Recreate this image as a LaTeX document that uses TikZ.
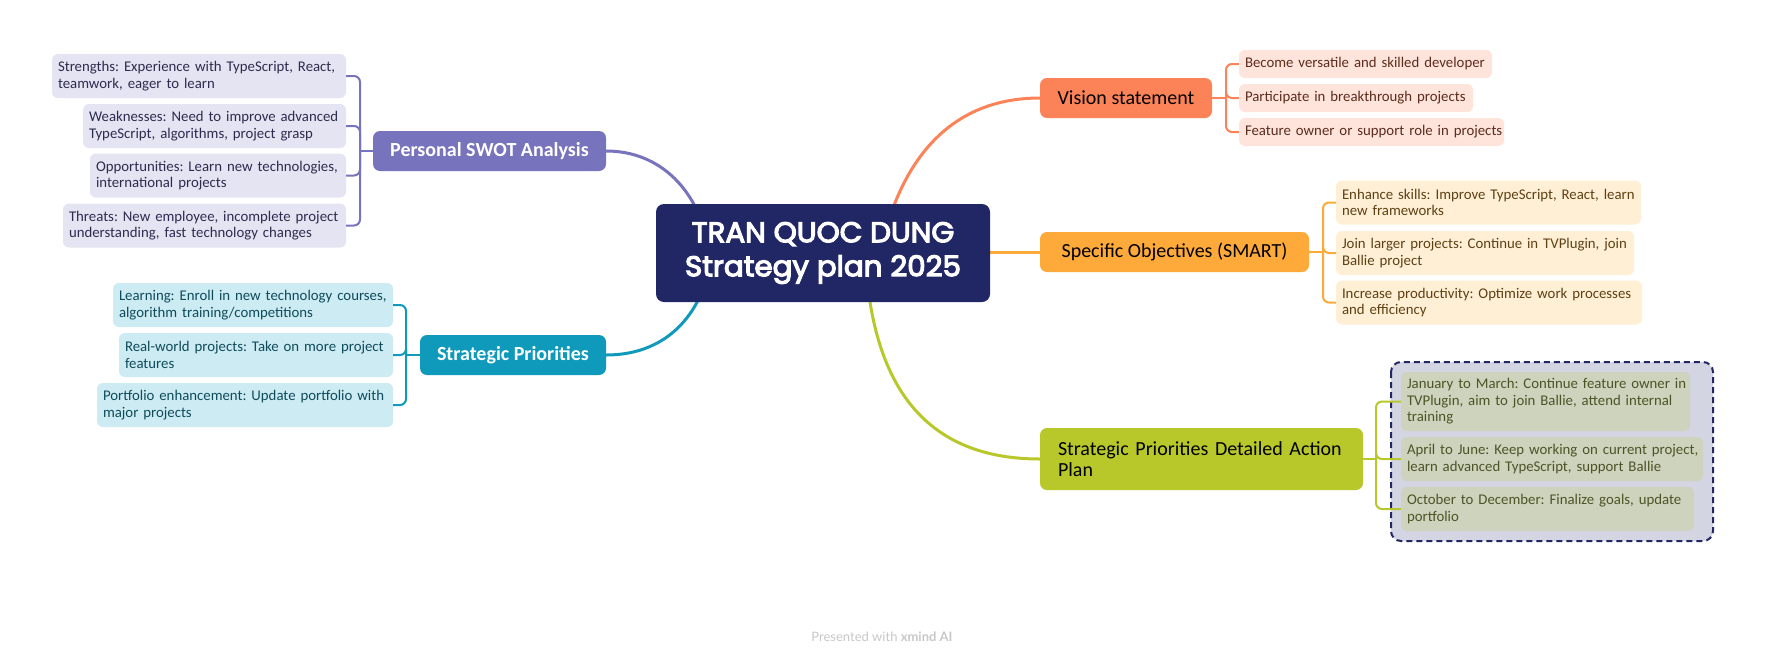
\documentclass[tikz,border=0pt]{standalone}
\usepackage{fontspec}
\setmainfont{Carlito}
\newfontfamily\titlefont{Poppins}[FakeBold=4, FakeStretch=1.03]
\newfontfamily\footfont{Lato}
\definecolor{navy}{HTML}{212765}
\definecolor{purp}{HTML}{7773BC}
\definecolor{purpsub}{HTML}{E5E4F2}
\definecolor{purptext}{HTML}{2D2C4F}
\definecolor{teal}{HTML}{0F9ABB}
\definecolor{tealsub}{HTML}{CCEBF2}
\definecolor{tealtext}{HTML}{0F4B5B}
\definecolor{orng}{HTML}{FC8357}
\definecolor{orngsub}{HTML}{FEE4DB}
\definecolor{orngtext}{HTML}{5C2C1C}
\definecolor{ambr}{HTML}{FDAA3A}
\definecolor{ambrsub}{HTML}{FFEFD5}
\definecolor{ambrtext}{HTML}{5E4014}
\definecolor{grn}{HTML}{B8C82A}
\definecolor{grnsub}{HTML}{CDD3BC}
\definecolor{grntext}{HTML}{4E5327}
\definecolor{dashfill}{HTML}{D3D5E3}
\definecolor{foot}{HTML}{C8C8C8}
\newcommand\subsize{\fontsize{14.8}{16.5}\selectfont}
\newcommand\brsize{\fontsize{20}{21.5}\selectfont}
\newcommand\ttlsize{\fontsize{28.5}{34}\selectfont}
\newcommand\keepln[1]{\mbox{#1}}
\tikzset{
  subbox/.style={rounded corners=6pt, inner xsep=6pt, inner ysep=0pt, align=left, anchor=center, font=\subsize, minimum height=44pt},
  onebox/.style={subbox, minimum height=28pt},
  brbox/.style={rounded corners=7pt, inner sep=0pt, align=center, anchor=center, font=\brsize, minimum height=40pt},
  curve/.style={line width=3pt, line cap=round},
  brack/.style={line width=2pt, rounded corners=6pt},
}
\begin{document}
\frenchspacing
\begin{tikzpicture}[x=1pt,y=-1pt]
\useasboundingbox (0,0) rectangle (1765,662);
\fill[white] (0,0) rectangle (1765,662);

% main branch nodes
\node[brbox, fill=purp, text=white, minimum width=233pt, font=\brsize\bfseries] (sw) at (489.5,151) {Personal SWOT Analysis};
\node[brbox, fill=teal, text=white, minimum width=186pt, font=\brsize\bfseries] (sp) at (513,355) {Strategic Priorities};
\node[brbox, fill=orng, text=black, minimum width=172pt] (vs) at (1126,98) {Vision statement};
\node[brbox, fill=ambr, text=black, minimum width=269pt] (so) at (1174.5,252) {Specific Objectives (SMART)};
\node[brbox, fill=grn, text=black, minimum height=62pt, text width=287pt, inner xsep=18pt, align=left] (ap) at (1201.5,459) {\keepln{Strategic Priorities Detailed Action}\\Plan};

% curves from centre
\coordinate (cin) at (900,252);
\draw[curve, purp] (sw.east) .. controls (660,151) and (700,190) .. (710,253);
\draw[curve, teal] (sp.east) .. controls (670,355) and (705,310) .. (712,253);
\draw[curve, orng] (vs.west) .. controls (950,98) and (900,160) .. (880,253);
\draw[curve, ambr] (cin) -- (so.west);
\draw[curve, grn] (ap.west) .. controls (900,459) and (870,350) .. (865,253);

% centre
\node[rounded corners=8pt, fill=navy, text=white, minimum width=334pt, minimum height=98pt, inner sep=0pt, align=center, font=\titlefont\ttlsize] (c) at (823,253) {TRAN QUOC DUNG\\Strategy plan 2025};

% SWOT children
\node[subbox, fill=purpsub, text=purptext, text width=282pt] (s1) at (199,76) {\keepln{Strengths: Experience with TypeScript, React,}\\teamwork, eager to learn};
\node[subbox, fill=purpsub, text=purptext, text width=251pt] (s2) at (214.5,126) {\keepln{Weaknesses: Need to improve advanced}\\\keepln{TypeScript, algorithms, project grasp}};
\node[subbox, fill=purpsub, text=purptext, text width=244pt] (s3) at (218,175.5) {\keepln{Opportunities: Learn new technologies,}\\international projects};
\node[subbox, fill=purpsub, text=purptext, text width=271pt] (s4) at (204.5,225.5) {\keepln{Threats: New employee, incomplete project}\\\keepln{understanding, fast technology changes}};
\coordinate (swj) at (360,151);
\draw[brack, purp] (sw.west) -- (swj);
\foreach \n in {s1,s2,s3,s4} \draw[brack, purp] (swj) |- (\n.east);

% Strategic priorities children
\node[subbox, fill=tealsub, text=tealtext, text width=268pt] (p1) at (253,305) {\keepln{Learning: Enroll in new technology courses,}\\algorithm training/competitions};
\node[subbox, fill=tealsub, text=tealtext, text width=262pt] (p2) at (256,355) {\keepln{Real-world projects: Take on more project}\\features};
\node[subbox, fill=tealsub, text=tealtext, text width=284pt] (p3) at (245,405) {\keepln{Portfolio enhancement: Update portfolio with}\\major projects};
\coordinate (spj) at (406,355);
\draw[brack, teal] (sp.west) -- (spj);
\foreach \n in {p1,p2,p3} \draw[brack, teal] (spj) |- (\n.east);

% Vision children
\node[onebox, fill=orngsub, text=orngtext, text width=241pt] (v1) at (1365.5,64) {\keepln{Become versatile and skilled developer}};
\node[onebox, fill=orngsub, text=orngtext, text width=222pt] (v2) at (1356,98) {\keepln{Participate in breakthrough projects}};
\node[onebox, fill=orngsub, text=orngtext, text width=253pt] (v3) at (1371.5,132) {\keepln{Feature owner or support role in projects}};
\coordinate (vsj) at (1226,98);
\draw[brack, orng] (vs.east) -- (vsj);
\foreach \n in {v1,v2,v3} \draw[brack, orng] (vsj) |- (\n.west);

% SMART children
\node[subbox, fill=ambrsub, text=ambrtext, text width=293pt] (o1) at (1488.5,202.5) {\keepln{Enhance skills: Improve TypeScript, React, learn}\\new frameworks};
\node[subbox, fill=ambrsub, text=ambrtext, text width=286pt] (o2) at (1485,253) {\keepln{Join larger projects: Continue in TVPlugin, join}\\Ballie project};
\node[subbox, fill=ambrsub, text=ambrtext, text width=294pt] (o3) at (1489,302.5) {\keepln{Increase productivity: Optimize work processes}\\and efficiency};
\coordinate (soj) at (1323,252);
\draw[brack, ambr] (so.east) -- (soj);
\foreach \n in {o1,o2,o3} \draw[brack, ambr] (soj) |- (\n.west);

% Action plan children
\draw[navy, fill=dashfill, line width=2pt, dash pattern=on 6pt off 4pt, rounded corners=10pt] (1391,362) rectangle (1713,541);
\coordinate (apj) at (1376,459);
\node[subbox, fill=grnsub, text=grntext, text width=277pt, minimum height=59pt] (a1) at (1545.5,401.5) {\keepln{January to March: Continue feature owner in}\\\keepln{TVPlugin, aim to join Ballie, attend internal}\\training};
\node[subbox, fill=grnsub, text=grntext, text width=290pt] (a2) at (1552,459) {\keepln{April to June: Keep working on current project,}\\\keepln{learn advanced TypeScript, support Ballie}};
\node[subbox, fill=grnsub, text=grntext, text width=281pt] (a3) at (1547.5,509) {\keepln{October to December: Finalize goals, update}\\portfolio};
\draw[brack, grn] (ap.east) -- (apj);
\foreach \n in {a1,a2,a3} \draw[brack, grn] (apj) |- (\n.west);

% footer
\node[font=\footfont\fontsize{13}{13}\selectfont, text=foot] (ft) at (882,637) {Presented with \textbf{xmind AI}};
\end{tikzpicture}
\end{document}
